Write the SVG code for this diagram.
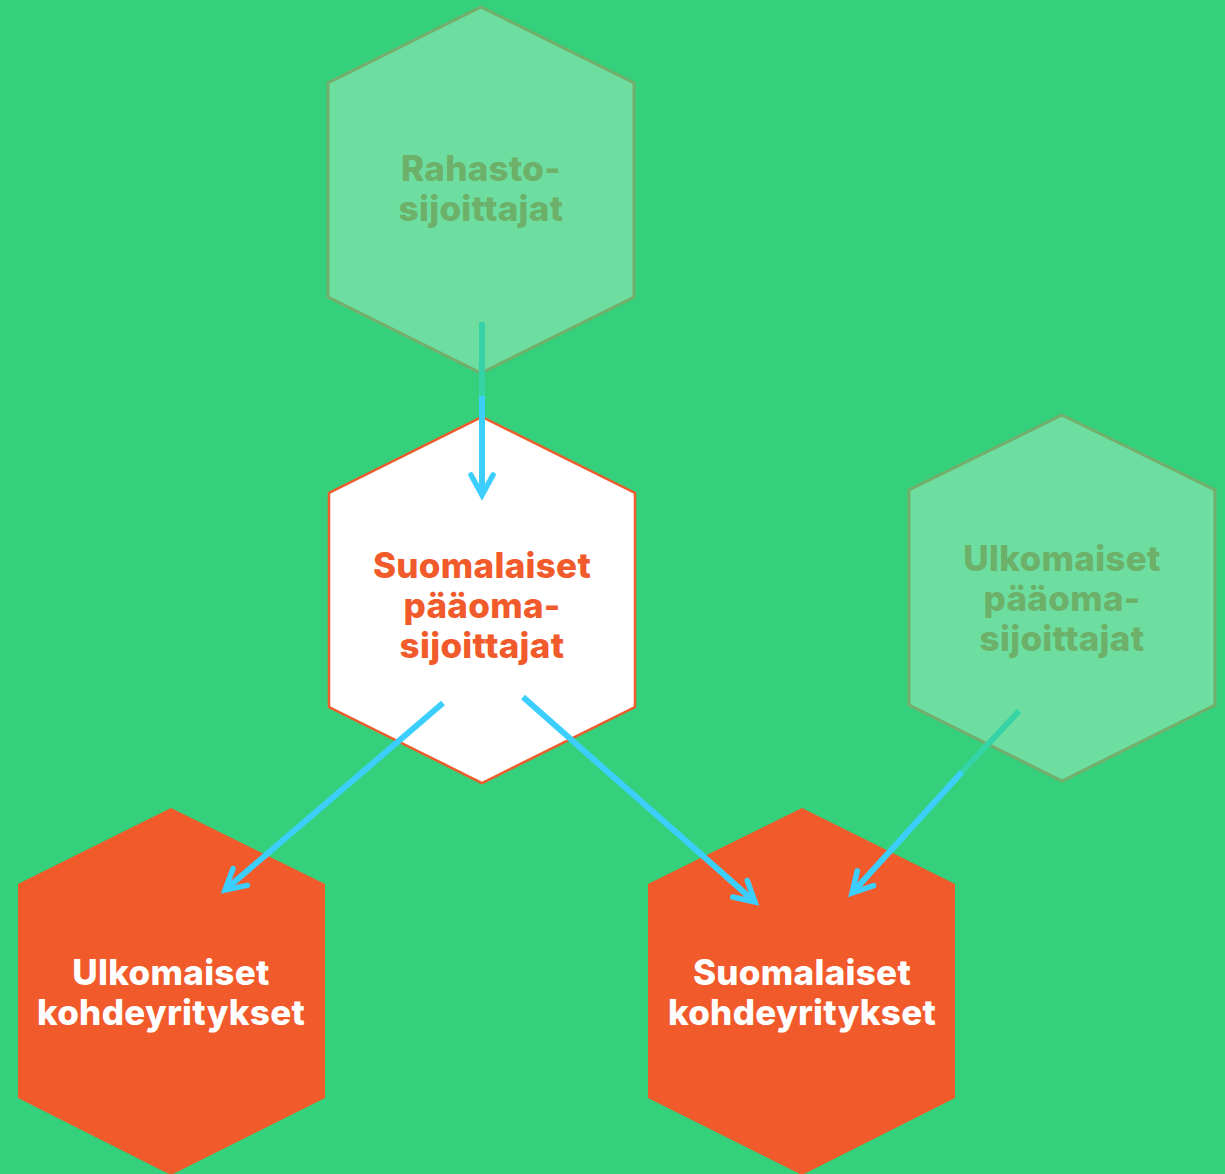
<svg xmlns="http://www.w3.org/2000/svg" width="1225" height="1174" viewBox="0 0 1225 1174">
<style>
.t{font-family:"Inter","Open Sans","Liberation Sans",sans-serif;font-weight:800;font-size:35px;text-anchor:middle;letter-spacing:0.3px}
.faint{fill:#6DDE9F;stroke:#74AE6C;stroke-width:3}
.faintT{fill:#6CB069}
.orange{fill:#F15A2A}
.blue{stroke:#3CCFFD;stroke-width:6;fill:none}
.teal{stroke:#36D3A6;stroke-width:6;fill:none}
</style>
<defs>
<marker id="ah" markerUnits="userSpaceOnUse" markerWidth="40" markerHeight="40" viewBox="-30 -20 40 40" refX="0" refY="0" orient="auto">
<path d="M-20,-11 L0,0 L-20,11" fill="none" stroke="#3CCFFD" stroke-width="5.5" stroke-linecap="round" stroke-linejoin="miter"/>
</marker>
</defs>
<rect width="1225" height="1174" fill="#34D07B"/>
<g id="node-rahasto">
<polygon class="faint" points="481,7 634,83 634,297 481,373 328,297 328,83"/>
<text class="t faintT" x="481" y="181">Rahasto-</text>
<text class="t faintT" x="481" y="221">sijoittajat</text>
</g>
<g id="node-suomalaiset-paaoma">
<polygon fill="#FFFFFF" stroke="#F15A2A" stroke-width="2.5" points="482,417 635,493 635,707 482,783 329,707 329,493"/>
<text class="t orange" x="482" y="578">Suomalaiset</text>
<text class="t orange" x="482" y="618">pääoma-</text>
<text class="t orange" x="482" y="658">sijoittajat</text>
</g>
<g id="node-ulkomaiset-paaoma">
<polygon class="faint" points="1062,415 1215,490 1215,705 1062,781 909,705 909,490"/>
<text class="t faintT" x="1062" y="571">Ulkomaiset</text>
<text class="t faintT" x="1062" y="611">pääoma-</text>
<text class="t faintT" x="1062" y="651">sijoittajat</text>
</g>
<g id="node-ulkomaiset-kohde">
<polygon class="orange" points="171,808 325,884 325,1098 171,1175 18,1098 18,884"/>
<text class="t" fill="#FFFFFF" x="171" y="985">Ulkomaiset</text>
<text class="t" fill="#FFFFFF" x="171" y="1025">kohdeyritykset</text>
</g>
<g id="node-suomalaiset-kohde">
<polygon class="orange" points="802,808 955,884 955,1098 802,1175 648,1098 648,884"/>
<text class="t" fill="#FFFFFF" x="802" y="985">Suomalaiset</text>
<text class="t" fill="#FFFFFF" x="802" y="1025">kohdeyritykset</text>
</g>
<g id="connectors">
<line class="teal" x1="482" y1="322" x2="482" y2="396"/>
<line class="blue" x1="482" y1="396" x2="482" y2="495" marker-end="url(#ah)"/>
<line class="blue" x1="443" y1="703" x2="225" y2="890" marker-end="url(#ah)"/>
<line class="blue" x1="523" y1="697" x2="755" y2="902" marker-end="url(#ah)"/>
<line class="teal" x1="1019" y1="711" x2="962" y2="772"/>
<line class="blue" x1="962" y1="772" x2="852" y2="893" marker-end="url(#ah)"/>
</g>
</svg>
